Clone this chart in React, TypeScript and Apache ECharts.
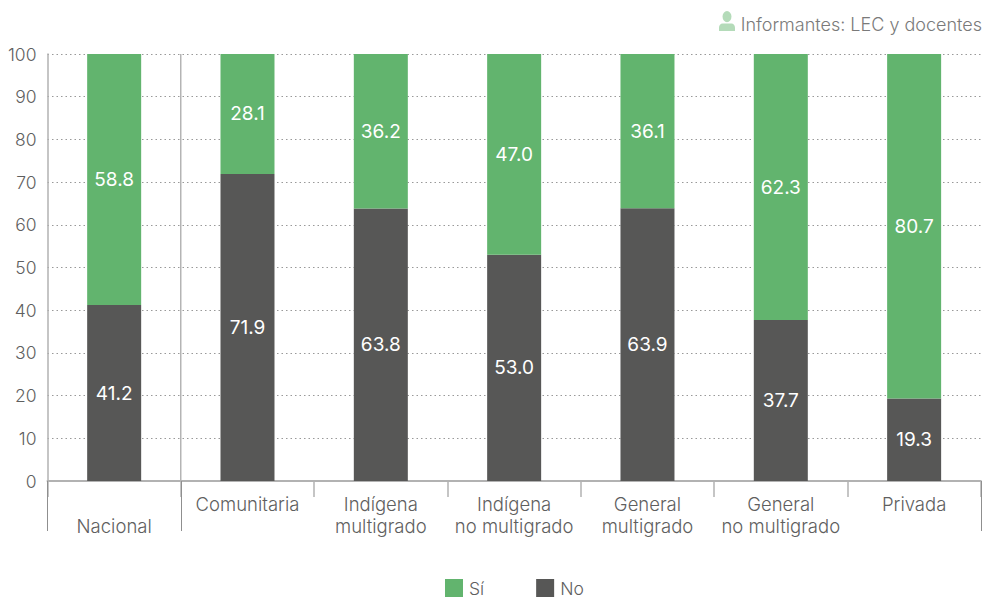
import React, { useEffect, useRef } from "react";
import * as echarts from "echarts";

const categories = [
  "\nNacional",
  "Comunitaria",
  "Indígena\nmultigrado",
  "Indígena\nno multigrado",
  "General\nmultigrado",
  "General\nno multigrado",
  "Privada",
];
const noValues = [41.2, 71.9, 63.8, 53.0, 63.9, 37.7, 19.3];
const siValues = [58.8, 28.1, 36.2, 47.0, 36.1, 62.3, 80.7];
const informantsNote = "Informantes: LEC y docentes";

const FONT = "Inter";
const GREEN = "#62B46E";
const DARK = "#575756";
const TEXT = "#5f5f5f";
const AXIS = "#b2b2b2";
const SEPARATOR = "#8f8f8f";

const WIDTH = 985;
const HEIGHT = 597;
const GRID = { left: 47.5, right: 4.2, top: 54, bottom: 116 };

// Boundary between the national bar and the school types
const groupSeparatorX = GRID.left + (WIDTH - GRID.left - GRID.right) / categories.length;

// Head and shoulders glyph shown next to the informants note
const PERSON =
  "M10 0a5.6 5.6 0 1 1 0 11.2a5.6 5.6 0 1 1 0-11.2z" +
  "M0 20v-3.2c0-2.4 2-4.2 4.4-4.2h11.2c2.4 0 4.4 1.8 4.4 4.2V20z";
echarts.graphic.registerShape("personGlyph", (echarts.graphic as any).extendPath(PERSON, {}));

const valueLabel = {
  show: true,
  position: "inside" as const,
  color: "#ffffff",
  fontFamily: FONT,
  fontSize: 19,
  formatter: (p: any) => p.value.toFixed(1),
};

export default function App() {
  const ref = useRef<HTMLDivElement>(null);

  useEffect(() => {
    const chart = echarts.init(ref.current!, null, { renderer: "svg" });
    chart.setOption({
      animation: false,
      textStyle: { fontFamily: FONT },
      grid: GRID,
      legend: {
        bottom: 0,
        left: 445,
        itemWidth: 18,
        itemHeight: 18,
        itemGap: 52,
        icon: "rect",
        data: ["Sí", "No"],
        textStyle: { color: TEXT, fontSize: 17.5, fontWeight: 300, fontFamily: FONT, padding: [0, 0, 0, 1] },
        padding: [0, 0, 0, 0],
      },
      xAxis: [
        {
          type: "category",
          data: categories,
          axisLine: { lineStyle: { color: AXIS, width: 2 } },
          axisTick: { show: true, length: 16, lineStyle: { color: AXIS, width: 1.5 } },
          axisLabel: {
            color: TEXT,
            fontFamily: FONT,
            fontSize: 18.5,
            fontWeight: 300,
            lineHeight: 22,
            margin: 12,
            interval: 0,
          },
        },
        {
          // Taller separators around the national group, with no labels of their own
          type: "category",
          position: "bottom",
          data: categories,
          axisLine: { show: false },
          axisLabel: { show: false },
          axisTick: {
            show: true,
            length: 50,
            interval: (i: number) => i <= 1,
            lineStyle: { color: SEPARATOR, width: 1 },
          },
        },
      ],
      yAxis: {
        type: "value",
        min: 0,
        max: 100,
        interval: 10,
        axisLine: { show: true, lineStyle: { color: AXIS, width: 1.5 } },
        axisTick: { show: false },
        axisLabel: { color: TEXT, fontFamily: FONT, fontSize: 17.5, fontWeight: 300, margin: 11 },
        splitLine: { show: true, lineStyle: { color: "#999999", type: [1.5, 3], width: 1 } },
      },
      series: [
        {
          name: "No",
          type: "bar",
          stack: "total",
          barWidth: 54,
          data: noValues,
          itemStyle: { color: DARK },
          label: valueLabel,
          z: 3,
        },
        {
          name: "Sí",
          type: "bar",
          stack: "total",
          barWidth: 54,
          data: siValues,
          itemStyle: { color: GREEN },
          label: valueLabel,
          z: 3,
        },
      ],
      graphic: [
        {
          type: "line",
          shape: { x1: groupSeparatorX, y1: GRID.top, x2: groupSeparatorX, y2: HEIGHT - GRID.bottom },
          style: { stroke: SEPARATOR, lineWidth: 1 },
        },
        {
          type: "personGlyph",
          x: 719,
          y: 11,
          scaleX: 0.8,
          scaleY: 1,
          style: { fill: "#B4DBB9" },
        },
        {
          type: "text",
          right: 3,
          top: 15,
          style: {
            text: informantsNote,
            fill: "#7a7a7a",
            font: `300 18px ${FONT}`,
          },
        },
      ],
    });
    return () => chart.dispose();
  }, []);

  return <div ref={ref} style={{ position: "absolute", left: 0, top: 0, width: WIDTH, height: HEIGHT }} />;
}
